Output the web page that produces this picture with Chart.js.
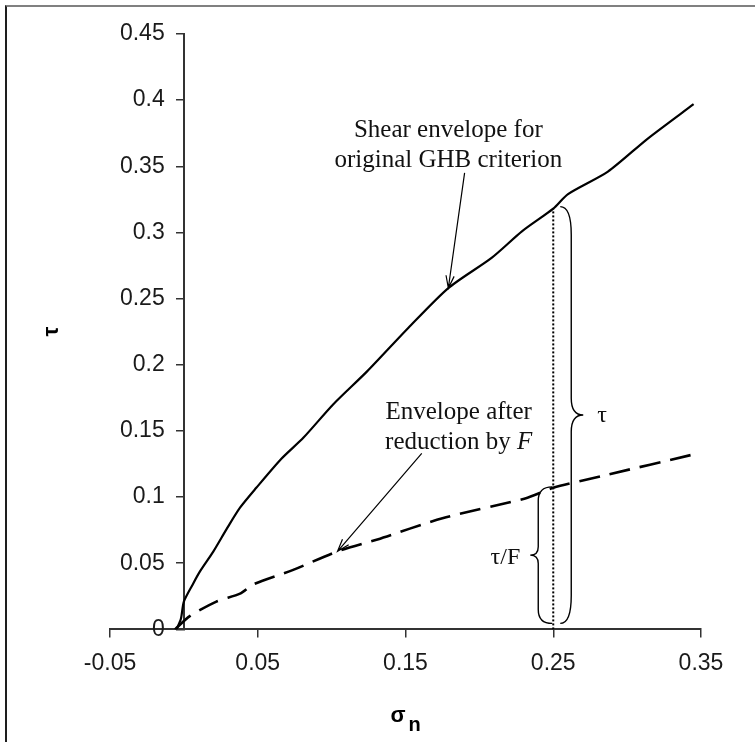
<!DOCTYPE html>
<html>
<head>
<meta charset="utf-8">
<script src="https://cdn.jsdelivr.net/npm/chart.js@4.4.1/dist/chart.umd.min.js"></script>
<style>
  html, body { margin: 0; padding: 0; background: #fff; }
  #wrap { position: relative; width: 755px; height: 742px; overflow: hidden; }
  #frame { position: absolute; left: 5px; top: 5px; right: -10px; bottom: -10px;
           border-top: 2px solid #808080; border-left: 2px solid #1e1e1e; pointer-events: none; }
</style>
</head>
<body>
<div id="wrap">
  <canvas id="envChart" width="755" height="742"></canvas>
  <div id="frame"></div>
</div>
<script>
// shear envelope for the original GHB criterion (sigma_n, tau)
const ghbSigma = [-0.005, -0.002, 0.0, 0.006, 0.011, 0.020, 0.029, 0.038, 0.049, 0.066, 0.081, 0.101,
                  0.124, 0.152, 0.179, 0.2085, 0.229, 0.25, 0.260, 0.287, 0.314, 0.345];
const ghbTau   = [0, 0.008, 0.021, 0.034, 0.044, 0.059, 0.076, 0.092, 0.107, 0.129, 0.145, 0.170,
                  0.195, 0.228, 0.258, 0.281, 0.301, 0.318, 0.329, 0.346, 0.371, 0.397];

// envelope after reduction by F
const redSigma = [-0.006, 0.004, 0.022, 0.038, 0.047, 0.074, 0.104, 0.131, 0.175, 0.231, 0.25, 0.287, 0.344];
const redTau   = [0, 0.010, 0.021, 0.027, 0.034, 0.045, 0.059, 0.068, 0.084, 0.099, 0.107, 0.117, 0.132];

// section where tau and tau/F are marked
const cutSigma = 0.25;

const xTicks = [-0.05, 0.05, 0.15, 0.25, 0.35];
const xTickLabels = ['-0.05', '0.05', '0.15', '0.25', '0.35'];
const yTicks = [0, 0.05, 0.1, 0.15, 0.2, 0.25, 0.3, 0.35, 0.4, 0.45];
const yTickLabels = ['0', '0.05', '0.1', '0.15', '0.2', '0.25', '0.3', '0.35', '0.4', '0.45'];

const tauCut = ghbTau[ghbSigma.indexOf(cutSigma)];
const tauFCut = redTau[redSigma.indexOf(cutSigma)];

const toPoints = (xs, ys) => xs.map((x, i) => ({ x: x, y: ys[i] }));

const tickFont = { family: '"Liberation Sans", Arial, sans-serif', size: 23 };
const serif = '"Liberation Serif", "Times New Roman", serif';
const noteFont = '25px ' + serif;

// curly brace: hook ends at x, vertical stroke at x+hook*dir, point at x+(hook+tip)*dir
function brace(ctx, x, yTop, yBot, dir, hook, tip, curl) {
  const mid = (yTop + yBot) / 2;
  const xv = x + dir * hook;
  ctx.beginPath();
  ctx.moveTo(x, yTop);
  ctx.quadraticCurveTo(xv, yTop, xv, yTop + curl);
  ctx.lineTo(xv, mid - curl * 0.6);
  ctx.quadraticCurveTo(xv, mid, xv + dir * tip, mid);
  ctx.quadraticCurveTo(xv, mid, xv, mid + curl * 0.6);
  ctx.lineTo(xv, yBot - curl);
  ctx.quadraticCurveTo(xv, yBot, x, yBot);
  ctx.stroke();
}

function arrow(ctx, x1, y1, x2, y2) {
  const a = Math.atan2(y2 - y1, x2 - x1);
  const len = 13, spread = 0.32;
  ctx.beginPath();
  ctx.moveTo(x1, y1);
  ctx.lineTo(x2, y2);
  ctx.moveTo(x2 - len * Math.cos(a - spread), y2 - len * Math.sin(a - spread));
  ctx.lineTo(x2, y2);
  ctx.lineTo(x2 - len * Math.cos(a + spread), y2 - len * Math.sin(a + spread));
  ctx.stroke();
}

const notes = {
  id: 'notes',
  afterDatasetsDraw(chart) {
    const { ctx, scales: { x, y } } = chart;
    const px = v => x.getPixelForValue(v);
    const py = v => y.getPixelForValue(v);
    ctx.save();
    ctx.strokeStyle = '#000';
    ctx.fillStyle = '#111';

    // braces at the cut
    const cx = px(cutSigma);
    const yBase = py(0) - 6;
    ctx.lineWidth = 1.4;
    brace(ctx, cx + 7, py(tauCut) - 2, yBase, 1, 11, 12, 28);
    brace(ctx, cx - 1, py(tauFCut) - 1, yBase, -1, 14, 8, 14);

    ctx.font = '24px ' + serif;
    ctx.textBaseline = 'middle';
    ctx.textAlign = 'left';
    ctx.fillText('τ', cx + 7 + 23 + 14, (py(tauCut) + yBase) / 2);
    ctx.textAlign = 'right';
    ctx.fillText('τ/F', cx - 1 - 22 - 10, (py(tauFCut) + yBase) / 2 + 2);

    // annotation for the original envelope
    ctx.font = noteFont;
    ctx.textBaseline = 'alphabetic';
    ctx.textAlign = 'center';
    ctx.fillText('Shear envelope for', px(0.179), py(0.372));
    ctx.fillText('original GHB criterion', px(0.179), py(0.372) + 30);
    ctx.lineWidth = 1.2;
    arrow(ctx, px(0.190), py(0.345), px(0.179), py(0.258));

    // annotation for the reduced envelope
    const lx = px(0.186), ly = py(0.159);
    ctx.fillText('Envelope after', lx, ly);
    const w1 = ctx.measureText('reduction by ').width;
    ctx.font = 'italic ' + noteFont;
    const w2 = ctx.measureText('F').width;
    const sx = lx - (w1 + w2) / 2;
    ctx.textAlign = 'left';
    ctx.font = noteFont;
    ctx.fillText('reduction by ', sx, ly + 30);
    ctx.font = 'italic ' + noteFont;
    ctx.fillText('F', sx + w1, ly + 30);
    arrow(ctx, px(0.161), py(0.133), px(0.104), py(0.059));

    // axis titles
    ctx.fillStyle = '#000';
    ctx.font = 'bold 22px "Liberation Sans", Arial, sans-serif';
    ctx.textAlign = 'center';
    ctx.textBaseline = 'middle';
    ctx.save();
    ctx.translate(52, (y.top + y.bottom) / 2);
    ctx.rotate(-Math.PI / 2);
    ctx.fillText('τ', 0, 0);
    ctx.restore();

    ctx.textBaseline = 'alphabetic';
    ctx.textAlign = 'right';
    ctx.fillText('σ', px(0.15), 722);
    ctx.font = 'bold 20px "Liberation Sans", Arial, sans-serif';
    ctx.textAlign = 'left';
    ctx.fillText('n', px(0.15) + 3, 731);
    ctx.restore();
  }
};

new Chart(document.getElementById('envChart'), {
  type: 'scatter',
  data: {
    datasets: [
      { label: 'GHB', data: toPoints(ghbSigma, ghbTau), showLine: true, tension: 0.25,
        borderColor: '#000', borderWidth: 2.2, pointRadius: 0 },
      { label: 'Reduced by F', data: toPoints(redSigma, redTau), showLine: true, tension: 0.25,
        borderColor: '#000', borderWidth: 2.6, borderDash: [21, 10], pointRadius: 0 },
      { label: 'cut', data: [{ x: cutSigma, y: 0 }, { x: cutSigma, y: tauCut }], showLine: true,
        borderColor: '#000', borderWidth: 2, borderDash: [2, 2], pointRadius: 0 }
    ]
  },
  options: {
    responsive: false,
    animation: false,
    devicePixelRatio: 1,
    layout: { padding: { left: 110, right: 54, top: 34, bottom: 53 } },
    plugins: { legend: { display: false }, tooltip: { enabled: false } },
    scales: {
      x: {
        type: 'linear', min: -0.05, max: 0.35,
        afterBuildTicks: s => { s.ticks = xTicks.map(v => ({ value: v })); },
        ticks: { callback: v => xTickLabels[xTicks.indexOf(v)], font: tickFont, color: '#1a1a1a',
                 padding: 12, maxRotation: 0, autoSkip: false },
        grid: { drawOnChartArea: false, drawTicks: true, tickLength: 8, color: '#333', lineWidth: 1.5 },
        border: { display: true, color: '#333', width: 2 }
      },
      y: {
        type: 'linear', min: 0, max: 0.45, position: { x: 0 },
        afterBuildTicks: s => { s.ticks = yTicks.map(v => ({ value: v })); },
        // the axis sits at x = 0, where labels are right-aligned on the axis line:
        // trailing spaces keep them clear of the tick marks
        ticks: { callback: v => yTickLabels[yTicks.indexOf(v)] + '   ', font: tickFont, color: '#1a1a1a',
                 autoSkip: false },
        grid: { drawOnChartArea: false, drawTicks: true, tickLength: 7, color: '#333', lineWidth: 1.5 },
        border: { display: true, color: '#333', width: 2 }
      }
    }
  },
  plugins: [notes]
});
</script>
</body>
</html>
